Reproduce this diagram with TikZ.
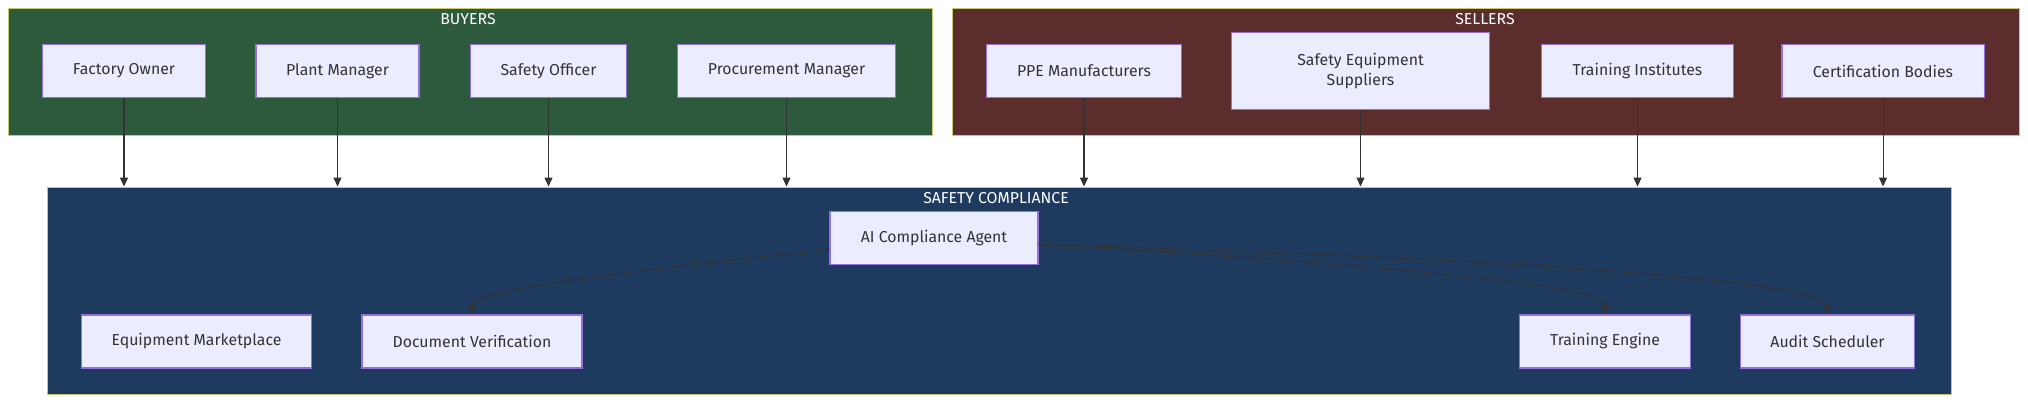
\documentclass[tikz,border=0pt]{standalone}
\usepackage{fontspec}
\setmainfont{Fira Sans}
\usepackage{tikz}
\usetikzlibrary{arrows.meta, positioning, calc}
\usepackage{xcolor}
\definecolor{nodefill}{HTML}{ECECFF}
\definecolor{nodeline}{HTML}{9370DB}
\definecolor{buyersbg}{HTML}{2D5A3D}
\definecolor{sellersbg}{HTML}{5C2D2D}
\definecolor{compbg}{HTML}{1F3A5F}
\definecolor{clusterline}{HTML}{C8C86E}
\definecolor{edgecol}{HTML}{333333}

\begin{document}
\begin{tikzpicture}[
    box/.style={draw=nodeline, fill=nodefill, line width=0.6pt, minimum height=1.06cm, text=edgecol, font=\fontsize{9}{11}\selectfont, align=center},
    cluster/.style={draw=clusterline, line width=0.6pt, anchor=north west, inner sep=0pt},
    title/.style={text=white, font=\fontsize{9}{11}\selectfont},
    flow/.style={draw=edgecol, line width=0.6pt, -{Triangle[length=5pt, width=4.5pt]}},
    >=Stealth
]
\useasboundingbox (0,0) rectangle (40.56,-8.04);
% Clusters
\node[cluster, fill=buyersbg, minimum width=18.47cm, minimum height=2.54cm] (buyers) at (0.16,-0.16) {};
\node[cluster, fill=sellersbg, minimum width=21.34cm, minimum height=2.54cm] (sellers) at (19.04,-0.16) {};
\node[cluster, fill=compbg, minimum width=38.08cm, minimum height=4.14cm] (comp) at (0.93,-3.73) {};
\node[title] (tbuy) at (9.36,-0.39) {BUYERS};
\node[title] (tsel) at (29.70,-0.39) {SELLERS};
\node[title] (tcomp) at (19.92,-3.96) {SAFETY COMPLIANCE};
% Buyers row
\node[box, minimum width=3.26cm] (fo) at (2.48,-1.42) {Factory Owner};
\node[box, minimum width=3.26cm] (pm) at (6.75,-1.42) {Plant Manager};
\node[box, minimum width=3.13cm] (so) at (10.97,-1.42) {Safety Officer};
\node[box, minimum width=4.37cm] (proc) at (15.73,-1.42) {Procurement Manager};
% Sellers row
\node[box, minimum width=3.91cm] (ppe) at (21.68,-1.42) {PPE Manufacturers};
\node[box, minimum width=5.17cm, minimum height=1.53cm] (ses) at (27.21,-1.42) {Safety Equipment\\Suppliers};
\node[box, minimum width=3.83cm] (ti) at (32.75,-1.42) {Training Institutes};
\node[box, minimum width=4.04cm] (cb) at (37.66,-1.42) {Certification Bodies};
% Compliance
\node[box, minimum width=4.16cm] (agent) at (18.68,-4.76) {AI Compliance Agent};
\node[box, minimum width=4.60cm] (market) at (3.93,-6.83) {Equipment Marketplace};
\node[box, minimum width=4.40cm] (docver) at (9.44,-6.83) {Document Verification};
\node[box, minimum width=3.41cm] (train) at (32.10,-6.83) {Training Engine};
\node[box, minimum width=3.49cm] (audit) at (36.55,-6.83) {Audit Scheduler};
% Arrows into compliance
\foreach \n in {fo, pm, so, proc, ppe, ses, ti, cb}
  \draw[flow] (\n) -- (\n |- comp.north);
% Agent arrows
\draw[flow] ([yshift=-0.23cm]agent.west) .. controls +(-5.2,-0.55) and +(0,0.45) .. (docver.north);
\draw[flow] ([yshift=-0.13cm]agent.east) .. controls +(9.5,-0.55) and +(0,0.45) .. (train.north);
\draw[flow] ([yshift=-0.13cm]agent.east) .. controls +(13.5,-0.4) and +(0,0.45) .. (audit.north);
\end{tikzpicture}
\end{document}
